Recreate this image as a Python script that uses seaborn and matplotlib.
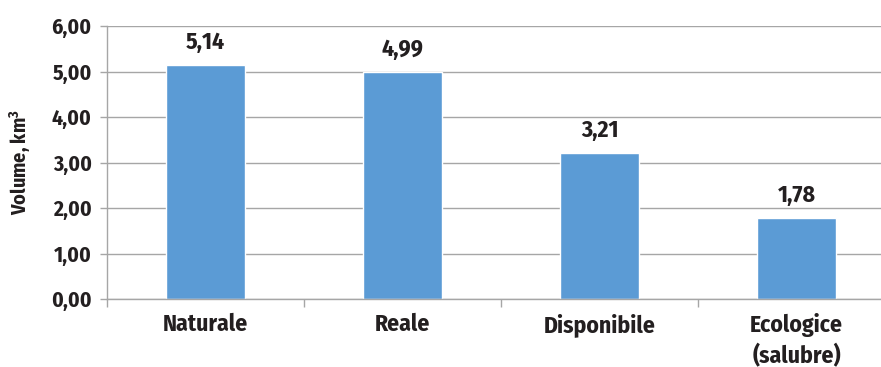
import matplotlib
matplotlib.use("Agg")
import matplotlib.pyplot as plt
from matplotlib import font_manager
from matplotlib.ticker import FixedLocator, FuncFormatter
import seaborn as sns
import pandas as pd

categories = ["Naturale", "Reale", "Disponibile", "Ecologice\n(salubre)"]
values = [5.14, 4.99, 3.21, 1.78]
y_ticks = [0, 1, 2, 3, 4, 5, 6]
y_label = "Volume, km$^3$"

sns.set_theme(style="white")
names = {f.name for f in font_manager.fontManager.ttflist}
fam = "DejaVu Sans"
for cand in ["Fira Sans Condensed", "Roboto Condensed", "Liberation Sans Narrow"]:
    if cand in names:
        fam = cand
        break
plt.rcParams["font.family"] = [fam, "DejaVu Sans"]
plt.rcParams["font.weight"] = "bold"
plt.rcParams["mathtext.fontset"] = "custom"
plt.rcParams["mathtext.rm"] = fam + ":bold"
plt.rcParams["mathtext.default"] = "rm"

txt = "#231F20"
grid = "#A6A6A6"
bar_color = "#5B9BD5"

fig = plt.figure(figsize=(8.81, 3.67), dpi=100)
ax = fig.add_axes([107 / 881, 68 / 367, (895 - 107) / 881, (299 - 26) / 367])

df = pd.DataFrame({"cat": categories, "val": values})
sns.barplot(data=df, x="cat", y="val", color=bar_color, saturation=1, width=0.4, ax=ax)

ax.set_xlim(-0.5, 3.5)
ax.set_ylim(0, 6)
ax.set_yticks(y_ticks)
ax.yaxis.set_major_formatter(FuncFormatter(lambda v, p: f"{v:.2f}".replace(".", ",")))
ax.yaxis.grid(True, color=grid, linewidth=1)
ax.set_axisbelow(True)
for s in ["top", "right"]:
    ax.spines[s].set_visible(False)
for s in ["left", "bottom"]:
    ax.spines[s].set_color(grid)
    ax.spines[s].set_linewidth(1)

ax.tick_params(axis="y", which="major", length=5, color=grid, width=1, pad=6,
               labelsize=15.5, labelcolor=txt, left=True)
ax.tick_params(axis="x", which="major", length=0, pad=10, labelsize=17, labelcolor=txt)
ax.xaxis.set_minor_locator(FixedLocator([-0.5, 0.5, 1.5, 2.5, 3.5]))
ax.tick_params(axis="x", which="minor", length=6, color=grid, width=1, bottom=True)
for lab in ax.get_xticklabels():
    lab.set_verticalalignment("top")
    lab.set_linespacing(1.35)

ax.set_xlabel("")
ax.set_ylabel(y_label, fontsize=14.5, color=txt, fontweight="bold", labelpad=13)

for i, v in enumerate(values):
    ax.annotate(f"{v:.2f}".replace(".", ","), xy=(i, v), xytext=(0, 8),
                textcoords="offset points", ha="center", va="bottom",
                fontsize=17, fontweight="bold", color=txt)

fig.savefig("out.png", dpi=100)
